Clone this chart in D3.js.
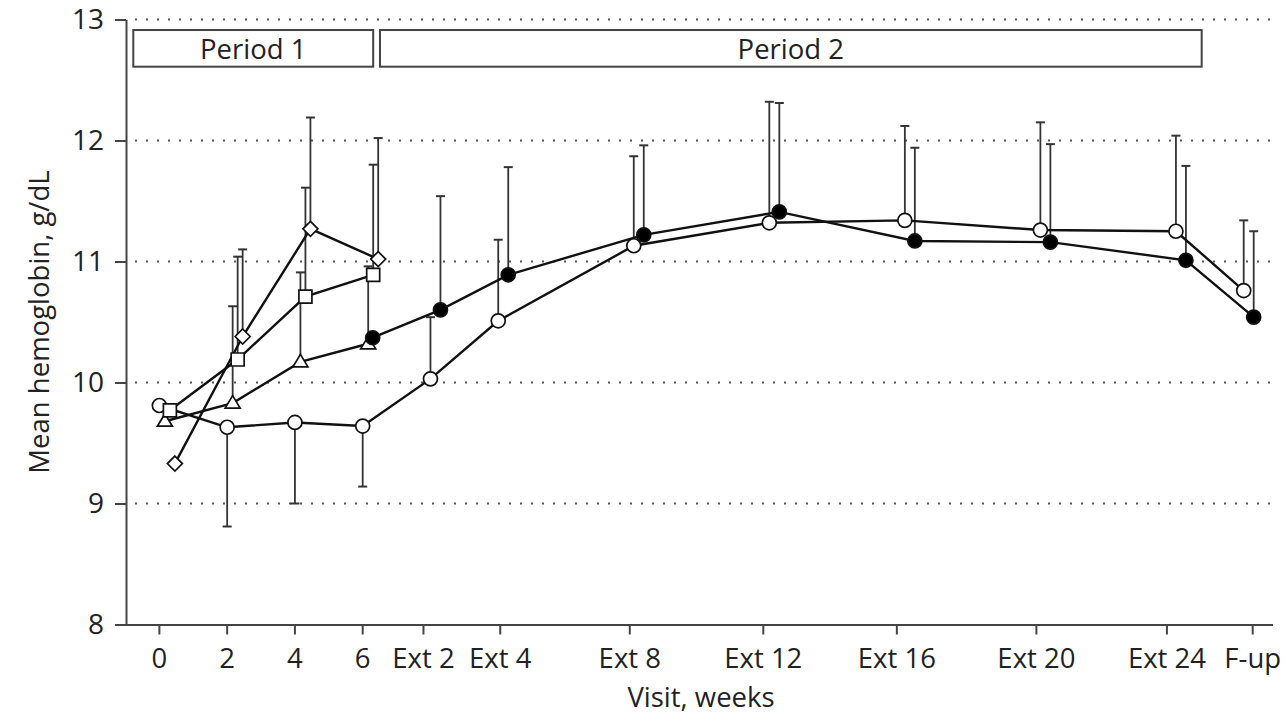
<!DOCTYPE html>
<html>
<head>
<meta charset="utf-8">
<script src="https://cdn.jsdelivr.net/npm/d3@7"></script>
<style>
  body { margin: 0; background: #fff; }
  text { font-family: "Open Sans", "Noto Sans", sans-serif; fill: #222; }
</style>
</head>
<body>
<svg id="chart" width="1286" height="723"></svg>
<script>
// Visits and their position in weeks (extension visits follow week 6)
const visits = ["0", "2", "4", "6", "Ext 2", "Ext 4", "Ext 8", "Ext 12", "Ext 16", "Ext 20", "Ext 24", "F-up"];
const visitWeek = [0, 2, 4, 6, 8, 10, 14, 18, 22, 26, 30, 32];
const yTicks = [8, 9, 10, 11, 12, 13];

// Mean hemoglobin (g/dL) per visit; null = not measured for that group
const openMean   = [9.81, 9.63, 9.67, 9.64, 10.03, 10.51, 11.13, 11.32, 11.34, 11.26, 11.25, 10.76];
const filledMean = [null, null, null, 10.37, 10.60, 10.89, 11.22, 11.41, 11.17, 11.16, 11.01, 10.54];
const triMean    = [9.68, 9.83, 10.17, 10.32];
const squareMean = [9.77, 10.19, 10.71, 10.89];
const diamondMean = [9.33, 10.38, 11.27, 11.02];

// Whisker end (mean ± SD) per visit; null = no whisker drawn
const openBarEnd   = [null, 8.81, 9.00, 9.14, 10.54, 11.18, 11.87, 12.32, 12.12, 12.15, 12.04, 11.34];
const filledBarEnd = [null, null, null, null, 11.54, 11.78, 11.96, 12.31, 11.94, 11.97, 11.79, 11.25];
const triBarEnd    = [null, 10.63, 10.91, 10.96];
const squareBarEnd = [null, 11.04, 11.61, 11.80];
const diamondBarEnd = [null, 11.10, 12.19, 12.02];

// Study periods (span in weeks)
const periods = ["Period 1", "Period 2"];
const periodStart = [-0.77, 6.51];
const periodEnd = [6.31, 30.76];

const svg = d3.select("#chart");
const x = d3.scaleLinear().domain([-1, 32.85]).range([125.5, 1272.5]);
const y = d3.scaleLinear().domain([8, 13]).range([624.5, 19.5]);

const ink = "#111";
const axisInk = "#444";
const fontSize = 27.5;
// small horizontal nudges (px) of the visit ticks so neighbouring labels keep apart
const tickNudge = { "Ext 2": -7, "Ext 4": 2, "Ext 8": -4, "Ext 12": -6, "Ext 16": -8, "Ext 20": -4, "Ext 24": -9, "F-up": 9 };

// dotted horizontal gridlines
svg.append("g").selectAll("line")
  .data(yTicks.filter(v => v > 8))
  .join("line")
  .attr("x1", 135).attr("x2", 1274)
  .attr("y1", d => y(d)).attr("y2", d => y(d))
  .attr("stroke", "#555").attr("stroke-width", 2)
  .attr("stroke-dasharray", "2 9");

// period boxes
const pg = svg.append("g");
periods.forEach((p, i) => {
  const x0 = x(periodStart[i]), x1 = x(periodEnd[i]);
  pg.append("rect")
    .attr("x", x0).attr("y", y(12.913))
    .attr("width", x1 - x0).attr("height", y(12.61) - y(12.913))
    .attr("fill", "#fff").attr("stroke", axisInk).attr("stroke-width", 2);
  pg.append("text")
    .attr("x", (x0 + x1) / 2).attr("y", 58.5)
    .attr("text-anchor", "middle").attr("font-size", fontSize)
    .text(p);
});

// axes
const yAxis = svg.append("g").attr("transform", "translate(126,0)")
  .call(d3.axisLeft(y).tickValues(yTicks).tickFormat(d3.format("d"))
    .tickSize(11).tickSizeOuter(0).tickPadding(11));
const xAxis = svg.append("g").attr("transform", `translate(0,${y(8)})`)
  .call(d3.axisBottom(x).tickValues(visitWeek).tickFormat((d, i) => visits[i])
    .tickSize(10).tickSizeOuter(0).tickPadding(14));
xAxis.selectAll(".tick")
  .attr("transform", (d, i) => `translate(${x(d) + (tickNudge[visits[i]] || 0)},0)`);
[yAxis, xAxis].forEach(g => {
  g.select(".domain").attr("stroke", axisInk).attr("stroke-width", 2);
  g.selectAll(".tick line").attr("stroke", axisInk).attr("stroke-width", 2);
  g.selectAll(".tick text").attr("font-size", fontSize).attr("fill", "#222")
    .style("font-family", '"Open Sans", "Noto Sans", sans-serif');
});
yAxis.selectAll(".tick text").attr("font-size", 28);

svg.append("text")
  .attr("transform", "translate(49,322) rotate(-90)")
  .attr("text-anchor", "middle").attr("font-size", fontSize)
  .text("Mean hemoglobin, g/dL");
svg.append("text")
  .attr("x", 701).attr("y", 707)
  .attr("text-anchor", "middle").attr("font-size", fontSize)
  .text("Visit, weeks");

// series definitions
const series = [
  { mean: openMean, bar: openBarEnd, shape: "circle", fill: "#fff", dx: 0 },
  { mean: triMean, bar: triBarEnd, shape: "triangle", fill: "#fff", dx: 5.5 },
  { mean: squareMean, bar: squareBarEnd, shape: "square", fill: "#fff", dx: 10.5 },
  { mean: diamondMean, bar: diamondBarEnd, shape: "diamond", fill: "#fff", dx: 15.5 },
  { mean: filledMean, bar: filledBarEnd, shape: "circle", fill: "#000", dx: 10 }
];
series.forEach(s => {
  s.points = s.mean.map((m, i) => ({ w: visitWeek[i], m, e: s.bar[i] }))
    .filter(p => p.m != null);
});
const px = (s, p) => x(p.w) + s.dx;

// error bars
const eg = svg.append("g").attr("stroke", "#333").attr("stroke-width", 1.8);
series.forEach(s => {
  s.points.filter(p => p.e != null).forEach(p => {
    const cx = px(s, p);
    eg.append("line").attr("x1", cx).attr("x2", cx)
      .attr("y1", y(p.m)).attr("y2", y(p.e));
    eg.append("line").attr("x1", cx - 4.5).attr("x2", cx + 4.5)
      .attr("y1", y(p.e)).attr("y2", y(p.e)).attr("stroke-width", 2);
  });
});

// connecting lines
const line = d3.line();
const lg = svg.append("g");
series.forEach(s => {
  lg.append("path")
    .attr("d", line(s.points.map(p => [px(s, p), y(p.m)])))
    .attr("fill", "none").attr("stroke", ink).attr("stroke-width", 2.4);
});

// markers
const shapes = {
  circle: "M7,0A7,7 0 1,1 -7,0A7,7 0 1,1 7,0Z",
  triangle: "M0,-7.5L7.5,5L-7.5,5Z",
  square: "M-6.5,-6.5H6.5V6.5H-6.5Z",
  diamond: "M0,-7.5L7.5,0L0,7.5L-7.5,0Z"
};
const mg = svg.append("g");
series.forEach(s => {
  mg.selectAll(null).data(s.points).join("path")
    .attr("transform", p => `translate(${px(s, p)},${y(p.m)})`)
    .attr("d", shapes[s.shape])
    .attr("fill", s.fill).attr("stroke", ink).attr("stroke-width", 1.7);
});
</script>
</body>
</html>
